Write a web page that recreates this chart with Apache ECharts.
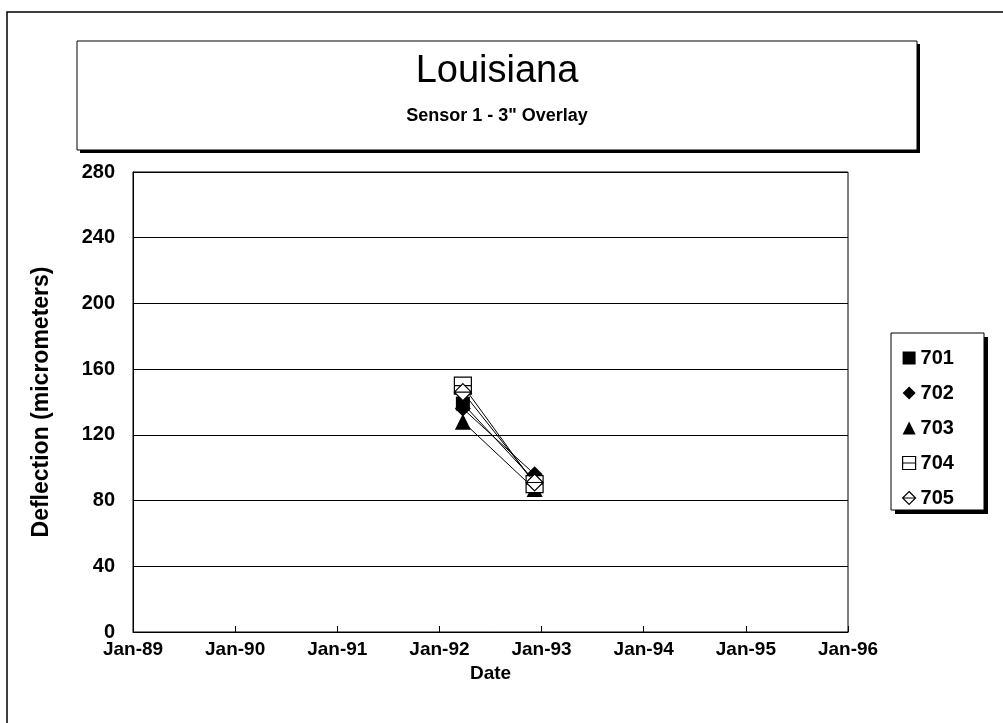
<!DOCTYPE html>
<html>
<head>
<meta charset="utf-8">
<script src="https://cdn.jsdelivr.net/npm/echarts@6/dist/echarts.min.js"></script>
<style>
html,body{margin:0;padding:0;background:#fff;}
#chart{width:1003px;height:723px;}
</style>
</head>
<body>
<div id="chart"></div>
<script>
// ---- data ----
const titleText = 'Louisiana';
const subtitleText = 'Sensor 1 - 3" Overlay';
const seriesNames = ['701', '702', '703', '704', '705'];
const dates = ['1992-03-25', '1992-12-07'];
const s701 = [139, 92];
const s702 = [136, 96];
const s703 = [128, 87];
const s704 = [150, 90];
const s705 = [146, 91];
const yTicks = [0, 40, 80, 120, 160, 200, 240, 280];
const xYears = [1989, 1990, 1991, 1992, 1993, 1994, 1995, 1996];

function decYear(s) {
  const d = new Date(s + 'T00:00:00Z');
  const y = d.getUTCFullYear();
  const start = Date.UTC(y, 0, 1), end = Date.UTC(y + 1, 0, 1);
  return y + (d.getTime() - start) / (end - start);
}
const xs = dates.map(decYear);
const values = [s701, s702, s703, s704, s705];

const sqLine = 'path://M0,0 L10,0 L10,10 L0,10 Z M0,5 L10,5';
const diaLine = 'path://M5,0 L10,5 L5,10 L0,5 Z M0,5 L10,5';
const symbols = ['rect', 'diamond', 'triangle', sqLine, diaLine];
const sizes = [14, 16, 16, 17, 17];
const openSym = [false, false, false, true, true];

const FONT = "'Liberation Sans', Arial, sans-serif";

const chart = echarts.init(document.getElementById('chart'), null, {renderer: 'canvas'});

const series = seriesNames.map((n, i) => ({
  name: n,
  type: 'line',
  data: xs.map((x, j) => [x, values[i][j]]),
  symbol: symbols[i],
  symbolSize: sizes[i],
  showAllSymbol: true,
  lineStyle: {color: '#000', width: 1},
  itemStyle: openSym[i]
    ? {color: '#fff', borderColor: '#000', borderWidth: 1.2}
    : {color: '#000', borderColor: '#000', borderWidth: 0},
  emphasis: {disabled: true},
  z: 3 + i
}));

const option = {
  backgroundColor: '#fff',
  animation: false,
  grid: {left: 133, right: 155, top: 172, bottom: 91, show: true, borderColor: '#000', borderWidth: 1, backgroundColor: 'transparent'},
  xAxis: {
    type: 'value',
    min: xYears[0],
    max: xYears[xYears.length - 1],
    interval: 1,
    name: 'Date',
    nameLocation: 'middle',
    nameGap: 25,
    nameTextStyle: {fontFamily: FONT, fontSize: 19, fontWeight: 'bold', color: '#000'},
    axisLine: {show: true, onZero: false, lineStyle: {color: '#000', width: 1}},
    axisTick: {show: true, inside: true, length: 6, lineStyle: {color: '#000'}},
    axisLabel: {
      margin: 8,
      fontFamily: FONT, fontSize: 19, fontWeight: 'bold', color: '#000',
      formatter: v => 'Jan-' + String(Math.round(v) % 100).padStart(2, '0')
    },
    splitLine: {show: false}
  },
  yAxis: {
    type: 'value',
    min: yTicks[0],
    max: yTicks[yTicks.length - 1],
    interval: 40,
    name: 'Deflection (micrometers)',
    nameLocation: 'middle',
    nameGap: 80,
    nameTextStyle: {fontFamily: FONT, fontSize: 23, fontWeight: 'bold', color: '#000'},
    axisLine: {show: true, lineStyle: {color: '#000', width: 1}},
    axisTick: {show: false},
    axisLabel: {margin: 18, fontFamily: FONT, fontSize: 20, fontWeight: 'bold', color: '#000'},
    splitLine: {show: true, lineStyle: {color: '#000', width: 1.2}}
  },
  legend: {
    orient: 'vertical',
    left: 902,
    top: 347,
    padding: 0,
    itemWidth: 13,
    itemHeight: 13,
    itemGap: 13,
    selectedMode: false,
    textStyle: {fontFamily: FONT, fontSize: 20, fontWeight: 'bold', color: '#000', lineHeight: 22},
    data: seriesNames.map((n, i) => ({
      name: n,
      icon: symbols[i],
      itemStyle: openSym[i]
        ? {color: '#fff', borderColor: '#000', borderWidth: 1.2}
        : {color: '#000', borderColor: '#000', borderWidth: 0}
    }))
  },
  graphic: [
    {type: 'rect', shape: {x: 7, y: 12, width: 1100, height: 800}, style: {fill: 'none', stroke: '#000', lineWidth: 1.5}, z: 0, silent: true},
    {type: 'rect', shape: {x: 80, y: 44, width: 840, height: 109}, style: {fill: '#000'}, z: 1, silent: true},
    {type: 'rect', shape: {x: 77, y: 41, width: 840, height: 109}, style: {fill: '#fff', stroke: '#000', lineWidth: 1}, z: 2, silent: true},
    {type: 'text', x: 497, y: 72, style: {text: titleText, fontFamily: FONT, fontSize: 38, fill: '#000', align: 'center', verticalAlign: 'middle'}, z: 3, silent: true},
    {type: 'text', x: 497, y: 116, style: {text: subtitleText, fontFamily: FONT, fontSize: 18, fontWeight: 'bold', fill: '#000', align: 'center', verticalAlign: 'middle'}, z: 3, silent: true},
    {type: 'rect', shape: {x: 895, y: 337, width: 93, height: 177}, style: {fill: '#000'}, z: 1, silent: true},
    {type: 'rect', shape: {x: 891, y: 333, width: 93, height: 177}, style: {fill: '#fff', stroke: '#000', lineWidth: 1}, z: 2, silent: true}
  ],
  series: series
};
chart.setOption(option);
</script>
</body>
</html>
